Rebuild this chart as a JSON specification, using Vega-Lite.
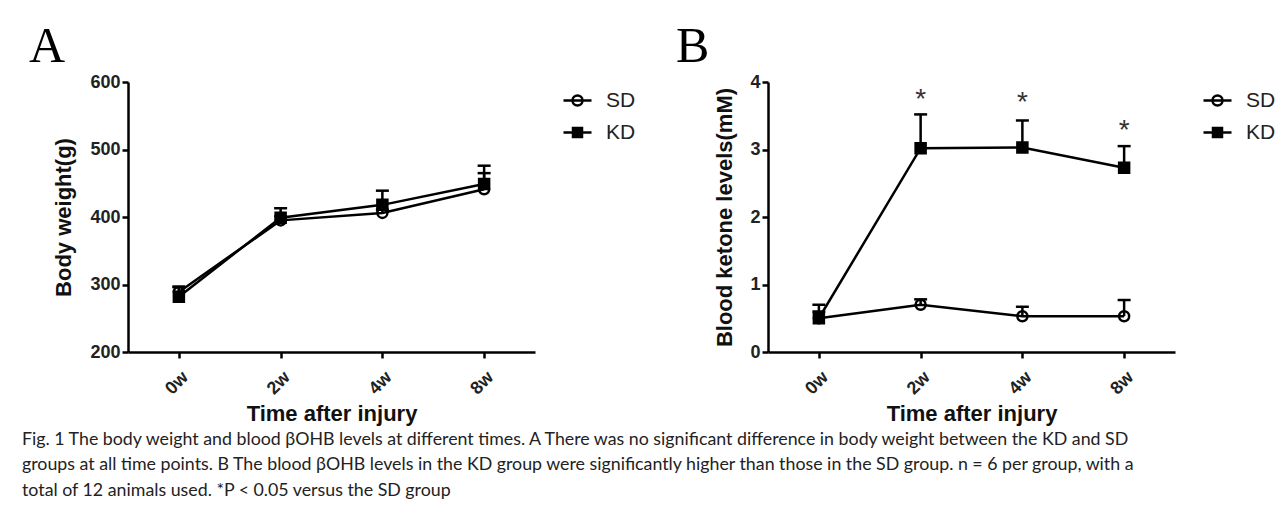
{
  "$schema": "https://vega.github.io/schema/vega-lite/v6.json",
  "padding": {"left": 22, "top": 22, "right": 5, "bottom": 5},
  "background": "white",
  "bounds": "flush",
  "spacing": 233,
  "config": {
    "view": {"stroke": null},
    "axis": {
      "domainColor": "black", "domainWidth": 2.5, "tickColor": "black", "tickWidth": 2.5, "tickSize": 6,
      "labelFont": "Liberation Sans", "labelFontWeight": "bold", "labelFontSize": 18, "labelColor": "#222",
      "titleFont": "Liberation Sans", "titleFontWeight": "bold", "titleFontSize": 22, "titleColor": "#111",
      "grid": false
    },
    "legend": {
      "title": null, "orient": "none", "legendX": 438, "legendY": 7, "padding": 0,
      "labelFont": "Liberation Sans", "labelFontSize": 21, "labelColor": "#222", "labelOffset": 17, "rowPadding": 10,
      "symbolSize": 400, "symbolOpacity": 1, "symbolStrokeWidth": 2.5
    }
  },
  "title": {
    "text": [
      "Fig. 1  The body weight and blood βOHB levels at different times. A There was no significant difference in body weight between the KD and SD",
      "groups at all time points. B The blood βOHB levels in the KD group were significantly higher than those in the SD group. n = 6 per group, with a",
      "total of 12 animals used. *P < 0.05 versus the SD group"
    ],
    "orient": "bottom", "anchor": "start", "frame": "bounds", "dx": -7, "offset": 6,
    "font": "Lato", "fontSize": 17.8, "fontWeight": "normal", "lineHeight": 25.5, "color": "#222", "baseline": "top"
  },
  "hconcat": [
    {
      "width": 407, "height": 270,
      "title": {"text": "A", "anchor": "start", "frame": "group", "dx": -99, "offset": -39, "font": "Liberation Serif", "fontSize": 50, "fontWeight": "normal", "baseline": "alphabetic", "color": "black"},
      "data": {"values": [
        {"time": "0w", "group": "SD", "mean": 289, "upper": 296},
        {"time": "2w", "group": "SD", "mean": 395, "upper": 401},
        {"time": "4w", "group": "SD", "mean": 406, "upper": 411},
        {"time": "8w", "group": "SD", "mean": 441, "upper": 465},
        {"time": "0w", "group": "KD", "mean": 282, "upper": 297},
        {"time": "2w", "group": "KD", "mean": 399, "upper": 413},
        {"time": "4w", "group": "KD", "mean": 418, "upper": 439},
        {"time": "8w", "group": "KD", "mean": 449, "upper": 476}
      ]},
      "encoding": {
        "x": {"field": "time", "type": "ordinal", "sort": ["0w", "2w", "4w", "8w"], "scale": {"type": "point", "padding": 0.5},
              "axis": {"title": "Time after injury", "labelAngle": -45, "labelPadding": 10, "titlePadding": 6}}
      },
      "layer": [
        {"mark": {"type": "point", "filled": true, "stroke": "black", "strokeWidth": 2.5, "opacity": 0, "size": 100},
         "encoding": {
           "y": {"field": "mean", "type": "quantitative", "scale": {"domain": [200, 600]},
                 "axis": {"title": "Body weight(g)", "values": [200, 300, 400, 500, 600], "format": "d", "labelPadding": 2, "titlePadding": 14}},
           "shape": {"field": "group", "type": "nominal", "scale": {"domain": ["SD", "KD"], "range": ["M-1.4,0H1.4M-0.5,0A0.5,0.5 0 1,1 0.5,0A0.5,0.5 0 1,1 -0.5,0Z", "M-1.4,0H1.4M-0.45,-0.45H0.45V0.45H-0.45Z"]}},
           "fill": {"field": "group", "type": "nominal", "scale": {"domain": ["SD", "KD"], "range": ["transparent", "black"]}}
         }},
        {"mark": {"type": "line", "color": "black", "strokeWidth": 2.5},
         "encoding": {"y": {"field": "mean", "type": "quantitative"}, "detail": {"field": "group"}}},
        {"mark": {"type": "rule", "color": "black", "strokeWidth": 2.5},
         "encoding": {"y": {"field": "mean", "type": "quantitative"}, "y2": {"field": "upper"}}},
        {"mark": {"type": "tick", "color": "black", "thickness": 2.5, "size": 13, "opacity": 1},
         "encoding": {"y": {"field": "upper", "type": "quantitative"}}},
        {"transform": [{"filter": "datum.group === 'SD'"}],
         "mark": {"type": "point", "shape": "circle", "filled": true, "fill": "transparent", "stroke": "black", "strokeWidth": 2.5, "size": 100, "opacity": 1},
         "encoding": {"y": {"field": "mean", "type": "quantitative"}}},
        {"transform": [{"filter": "datum.group === 'KD'"}],
         "mark": {"type": "point", "shape": "square", "filled": true, "fill": "black", "stroke": "black", "strokeWidth": 2.5, "size": 100, "opacity": 1},
         "encoding": {"y": {"field": "mean", "type": "quantitative"}}}
      ]
    },
    {
      "width": 407, "height": 270,
      "title": {"text": "B", "anchor": "start", "frame": "group", "dx": -92, "offset": -39, "font": "Liberation Serif", "fontSize": 50, "fontWeight": "normal", "baseline": "alphabetic", "color": "black"},
      "data": {"values": [
        {"time": "0w", "group": "SD", "mean": 0.50, "upper": 0.60},
        {"time": "2w", "group": "SD", "mean": 0.70, "upper": 0.78},
        {"time": "4w", "group": "SD", "mean": 0.53, "upper": 0.67},
        {"time": "8w", "group": "SD", "mean": 0.53, "upper": 0.77},
        {"time": "0w", "group": "KD", "mean": 0.50, "upper": 0.70},
        {"time": "2w", "group": "KD", "mean": 3.02, "upper": 3.52, "star": 3.85},
        {"time": "4w", "group": "KD", "mean": 3.03, "upper": 3.43, "star": 3.81},
        {"time": "8w", "group": "KD", "mean": 2.73, "upper": 3.05, "star": 3.39}
      ]},
      "encoding": {
        "x": {"field": "time", "type": "ordinal", "sort": ["0w", "2w", "4w", "8w"], "scale": {"type": "point", "padding": 0.5},
              "axis": {"title": "Time after injury", "labelAngle": -45, "labelPadding": 10, "titlePadding": 6}}
      },
      "layer": [
        {"mark": {"type": "point", "filled": true, "stroke": "black", "strokeWidth": 2.5, "opacity": 0, "size": 100},
         "encoding": {
           "y": {"field": "mean", "type": "quantitative", "scale": {"domain": [0, 4]},
                 "axis": {"title": "Blood ketone levels(mM)", "values": [0, 1, 2, 3, 4], "format": "d", "labelPadding": 2, "titlePadding": 13}},
           "shape": {"field": "group", "type": "nominal", "scale": {"domain": ["SD", "KD"], "range": ["M-1.4,0H1.4M-0.5,0A0.5,0.5 0 1,1 0.5,0A0.5,0.5 0 1,1 -0.5,0Z", "M-1.4,0H1.4M-0.45,-0.45H0.45V0.45H-0.45Z"]}},
           "fill": {"field": "group", "type": "nominal", "scale": {"domain": ["SD", "KD"], "range": ["transparent", "black"]}}
         }},
        {"mark": {"type": "line", "color": "black", "strokeWidth": 2.5},
         "encoding": {"y": {"field": "mean", "type": "quantitative"}, "detail": {"field": "group"}}},
        {"mark": {"type": "rule", "color": "black", "strokeWidth": 2.5},
         "encoding": {"y": {"field": "mean", "type": "quantitative"}, "y2": {"field": "upper"}}},
        {"mark": {"type": "tick", "color": "black", "thickness": 2.5, "size": 13, "opacity": 1},
         "encoding": {"y": {"field": "upper", "type": "quantitative"}}},
        {"mark": {"type": "text", "text": "*", "font": "Liberation Sans", "fontSize": 28, "color": "#333", "baseline": "middle", "dy": 8},
         "encoding": {"y": {"field": "star", "type": "quantitative"}}},
        {"transform": [{"filter": "datum.group === 'SD'"}],
         "mark": {"type": "point", "shape": "circle", "filled": true, "fill": "transparent", "stroke": "black", "strokeWidth": 2.5, "size": 100, "opacity": 1},
         "encoding": {"y": {"field": "mean", "type": "quantitative"}}},
        {"transform": [{"filter": "datum.group === 'KD'"}],
         "mark": {"type": "point", "shape": "square", "filled": true, "fill": "black", "stroke": "black", "strokeWidth": 2.5, "size": 100, "opacity": 1},
         "encoding": {"y": {"field": "mean", "type": "quantitative"}}}
      ]
    }
  ],
  "resolve": {"scale": {"y": "independent", "shape": "independent", "fill": "independent"}}
}
